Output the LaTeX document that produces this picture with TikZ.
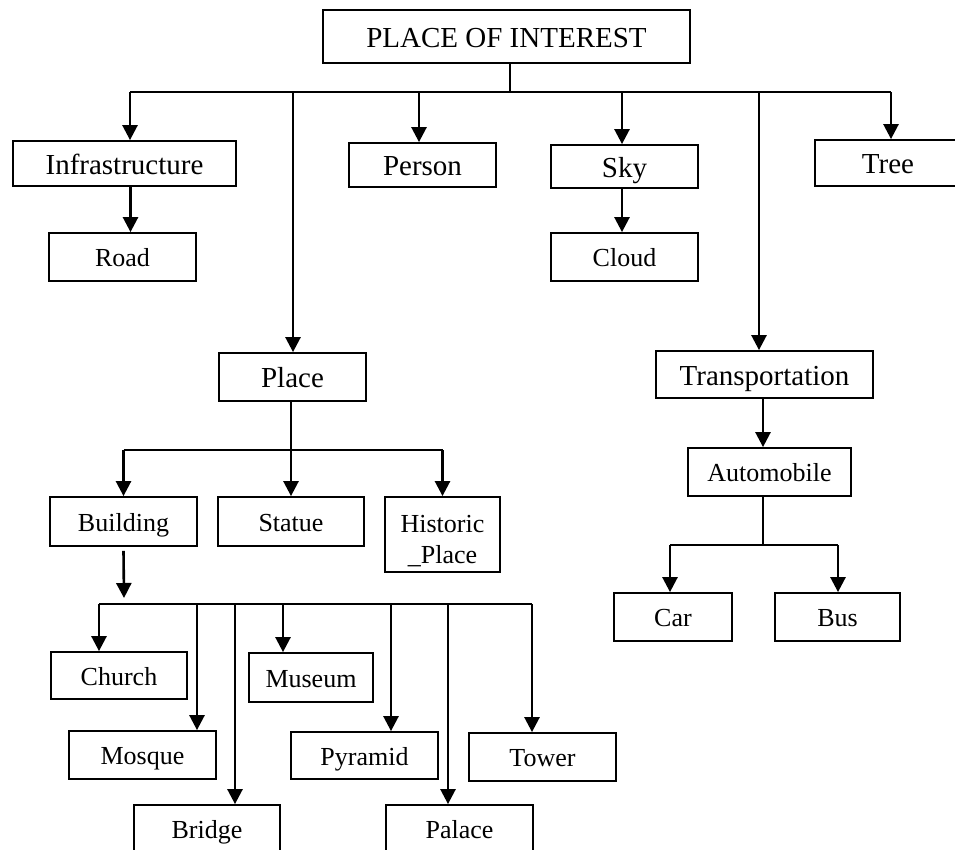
\documentclass[tikz,border=0pt]{standalone}
\usepackage{fontspec}
\setmainfont{Liberation Serif}
\usetikzlibrary{arrows.meta}
\tikzset{
  box/.style={draw, line width=1.8pt, inner sep=0pt, text depth=0pt},
  big/.style={font=\fontsize{29}{33}\selectfont, text height=21pt},
  small/.style={font=\fontsize{26}{31}\selectfont, text height=19pt},
  arr/.style={line width=2.6pt, -{Triangle[width=15pt,length=15pt]}},
  busl/.style={line width=2.3pt},
  thinl/.style={line width=1.5pt},
}
\begin{document}
\begin{tikzpicture}[x=1pt,y=-1pt]
\clip (0,0) rectangle (955,849);
\fill[white] (0,0) rectangle (955,849);
% boxes
\node[box,big,minimum width=367pt,minimum height=53pt] (root) at (506.5,36.5) {PLACE OF INTEREST};
\node[box,big,minimum width=223pt,minimum height=45pt] (infra) at (124.5,163.5) {Infrastructure};
\node[box,big,minimum width=147pt,minimum height=44pt] (person) at (422.5,165) {Person};
\node[box,big,minimum width=147pt,minimum height=43pt] (sky) at (624.5,166.5) {Sky};
\node[box,big,minimum width=146pt,minimum height=46pt] (tree) at (888,163) {Tree};
\node[box,small,minimum width=147pt,minimum height=48pt] (road) at (122.5,257) {Road};
\node[box,small,minimum width=147pt,minimum height=48pt] (cloud) at (624.5,257) {Cloud};
\node[box,big,minimum width=147pt,minimum height=48pt] (place) at (292.5,377) {Place};
\node[box,big,minimum width=217pt,minimum height=47pt] (transp) at (764.5,374.5) {Transportation};
\node[box,small,minimum width=163pt,minimum height=48pt] (auto) at (769.5,472) {Automobile};
\node[box,small,minimum width=147pt,minimum height=49pt] (building) at (123.5,521.5) {Building};
\node[box,small,minimum width=146pt,minimum height=49pt] (statue) at (291,521.5) {Statue};
\node[box,small,align=center,text height=57pt,minimum width=115pt,minimum height=75pt] (historic) at (442.5,534.5) {Historic\\\_Place};
\node[box,small,minimum width=118pt,minimum height=48pt] (car) at (673,617) {Car};
\node[box,small,minimum width=125pt,minimum height=48pt] (bus) at (837.5,617) {Bus};
\node[box,small,minimum width=136pt,minimum height=47pt] (church) at (119,675.5) {Church};
\node[box,small,minimum width=124pt,minimum height=49pt] (museum) at (311,677.5) {Museum};
\node[box,small,minimum width=147pt,minimum height=48pt] (mosque) at (142.5,755) {Mosque};
\node[box,small,minimum width=147pt,minimum height=47pt] (pyramid) at (364.5,755.5) {Pyramid};
\node[box,small,minimum width=147pt,minimum height=48pt] (tower) at (542.5,757) {Tower};
\node[box,small,minimum width=146pt,minimum height=48pt] (bridge) at (207,829) {Bridge};
\node[box,small,minimum width=147pt,minimum height=48pt] (palace) at (459.5,829) {Palace};
% top level
\coordinate (rj) at (510,92);
\coordinate (dI) at (130,92);
\coordinate (dPl) at (293,92);
\coordinate (dPe) at (419,92);
\coordinate (dS) at (622,92);
\coordinate (dT) at (759,92);
\coordinate (dTr) at (891,92);
\draw[thinl] (root.south -| rj) -- (rj);
\draw[busl] (dI) -- (dTr);
\draw[arr] (dI) -- (dI |- infra.north);
\draw[arr] (dPl) -- (dPl |- place.north);
\draw[arr] (dPe) -- (dPe |- person.north);
\draw[arr] (dS) -- (dS |- sky.north);
\draw[arr] (dT) -- (dT |- transp.north);
\draw[arr] (dTr) -- (dTr |- tree.north);
\draw[arr] ([xshift=6pt]infra.south) -- ([xshift=6pt]infra.south |- road.north);
\draw[arr] ([xshift=-2.5pt]sky.south) -- ([xshift=-2.5pt]sky.south |- cloud.north);
\draw[arr] ([xshift=-1.5pt]transp.south) -- ([xshift=-1.5pt]transp.south |- auto.north);
% place subtree
\coordinate (pj) at (291,450);
\draw[thinl] (place.south -| pj) -- (pj);
\draw[busl] (building.north |- pj) -- (historic.north |- pj);
\draw[arr] (building.north |- pj) -- (building.north);
\draw[arr] (statue.north |- pj) -- (statue.north);
\draw[arr] (historic.north |- pj) -- (historic.north);
% building subtree
\coordinate (bj) at (124,598);
\draw[arr] ([yshift=-4pt]building.south) -- (bj);
\coordinate (eC) at (99,604);
\coordinate (eM) at (197,604);
\coordinate (eB) at (235,604);
\coordinate (eMu) at (283,604);
\coordinate (eP) at (391,604);
\coordinate (ePa) at (448,604);
\coordinate (eT) at (532,604);
\draw[busl] (eC) -- (eT);
\draw[arr] (eC) -- (eC |- church.north);
\draw[arr] (eM) -- (eM |- mosque.north);
\draw[arr] (eB) -- (eB |- bridge.north);
\draw[arr] (eMu) -- (eMu |- museum.north);
\draw[arr] (eP) -- (eP |- pyramid.north);
\draw[arr] (ePa) -- (ePa |- palace.north);
\draw[arr] (eT) -- (eT |- tower.north);
% automobile subtree
\coordinate (aj) at (763,545);
\coordinate (aC) at (670,545);
\coordinate (aB) at (838,545);
\draw[thinl] (auto.south -| aj) -- (aj);
\draw[busl] (aC) -- (aB);
\draw[arr] (aC) -- (aC |- car.north);
\draw[arr] (aB) -- (aB |- bus.north);
\end{tikzpicture}
\end{document}
